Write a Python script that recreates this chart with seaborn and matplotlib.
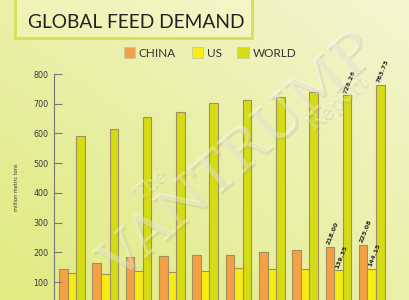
import numpy as np
import pandas as pd
import seaborn as sns
import matplotlib
matplotlib.use("Agg")
import matplotlib.pyplot as plt
from matplotlib.patches import Rectangle, Patch
import matplotlib.patheffects as pe

# ---- data ----
groups = list(range(10))
series_names = ["CHINA", "US", "WORLD"]
china = [145, 165, 184, 187, 190, 192, 202, 209, 218.00, 225.08]
us = [131, 129, 138, 135, 137, 146, 144, 144, 139.35, 144.15]
world = [592, 614, 657, 672, 703, 712, 724, 741, 728.26, 763.73]
labels_china = {8: "218.00", 9: "225.08"}
labels_us = {8: "139.35", 9: "144.15"}
labels_world = {8: "728.26", 9: "763.73"}
yticks = [100, 200, 300, 400, 500, 600, 700, 800]

df = pd.DataFrame({
    "group": groups * 3,
    "series": ["CHINA"] * 10 + ["US"] * 10 + ["WORLD"] * 10,
    "value": china + us + world,
})

colors = {"CHINA": "#f5a044", "US": "#f8ec12", "WORLD": "#d3dc14"}

W, H = 410, 300
fig = plt.figure(figsize=(W / 100, H / 100), dpi=100)

# background gradient
bg = fig.add_axes([0, 0, 1, 1], zorder=-10)
yy, xx = np.mgrid[0:1:300j, 0:1:410j]
t = np.clip(0.5 * xx + 0.5 * (1 - yy), 0, 1)  # 0 bottom-left, 1 top-right
c0 = np.array([224, 234, 128]) / 255
c1 = np.array([244, 245, 208]) / 255
img = c0[None, None, :] * (1 - t[..., None]) + c1[None, None, :] * t[..., None]
bg.imshow(img[::-1], aspect="auto", extent=[0, 1, 0, 1], origin="lower")
bg.axis("off")

# main axes
ax_left = 54 / W
ax_right = 405 / W
ax_top = 74 / H
ax = fig.add_axes([ax_left, 0, ax_right - ax_left, 1 - ax_top])
ax.set_facecolor("none")

sns.barplot(data=df, x="group", y="value", hue="series", palette=colors,
            width=0.77, edgecolor="#a09060", linewidth=0.8, ax=ax,
            legend=False, saturation=1)

ax.set_ylim(40, 800)
ax.set_xlim(-0.54, 10.0)
ax.set_xticks([])
ax.set_xlabel("")
ax.set_ylabel("million metric tons", fontsize=3.6, color="#333333", labelpad=10)
ax.set_yticks(yticks)
ax.set_yticklabels([str(v) for v in yticks], fontsize=5.8, color="#3a3a3a")
ax.tick_params(axis="y", direction="in", length=6, width=0.8, color="#777777", pad=4)
for s in ["top", "right", "bottom"]:
    ax.spines[s].set_visible(False)
ax.spines["left"].set_color("#777777")
ax.spines["left"].set_linewidth(0.8)

# value labels
off = 0.77 / 3
def put(d, vals, dx):
    for i, txt in d.items():
        ax.text(i + dx - 0.05, vals[i] + 8, txt, rotation=68, rotation_mode="anchor",
                ha="left", va="center", fontsize=4.6, fontweight="bold",
                color="#2a2a2a", clip_on=False)
put(labels_china, china, -off)
put(labels_us, us, 0)
put(labels_world, world, off)

# watermark
wm_col = (1, 1, 1, 0.32)
shadow = [pe.withSimplePatchShadow(offset=(1.5, -1.5), shadow_rgbFace="#a0a088", alpha=0.22)]
fig.text(238 / W, 1 - 157 / H, "VANTRUMP", rotation=41, ha="center", va="center",
         fontsize=40, family="DejaVu Serif", color=wm_col, path_effects=shadow)
fig.text(150 / W, 1 - 185 / H, "The", rotation=41, ha="center", va="center",
         fontsize=14, family="DejaVu Serif", color=wm_col, path_effects=shadow)
fig.text(337 / W, 1 - 103 / H, "Report", rotation=41, ha="center", va="center",
         fontsize=15, family="DejaVu Serif", color=wm_col, path_effects=shadow)

# title box
box = Rectangle((15 / W, 1 - 38 / H), (252 - 15) / W, 50 / H, transform=fig.transFigure,
                facecolor=(1, 1, 0.85, 0.25), edgecolor="#d6df55", linewidth=2, zorder=5)
fig.patches.append(box)
fig.text(92 / W, 1 - 7 / H, "CORN", ha="center", va="bottom", fontsize=40,
         fontweight="bold", color=(1, 1, 1, 0), zorder=6,
         path_effects=[pe.withStroke(linewidth=1.5, foreground="#222222")])
fig.text(136 / W, 1 - 23 / H, "GLOBAL FEED DEMAND", ha="center", va="center",
         fontsize=13.8, family="Lato", color="#222222", zorder=6)

# legend
handles = [Patch(facecolor=colors[s], edgecolor="#c8c8a0", linewidth=0.6) for s in series_names]
fig.legend(handles, series_names, loc="center", bbox_to_anchor=(210 / W, 1 - 53 / H),
           ncol=3, frameon=False, handlelength=1.0, handleheight=1.0,
           handletextpad=0.3, columnspacing=1.3, borderpad=0,
           prop={"family": "Lato", "size": 8.5})
for txt in fig.legends[0].get_texts():
    txt.set_color("#333333")

fig.savefig("out.png", dpi=100)
